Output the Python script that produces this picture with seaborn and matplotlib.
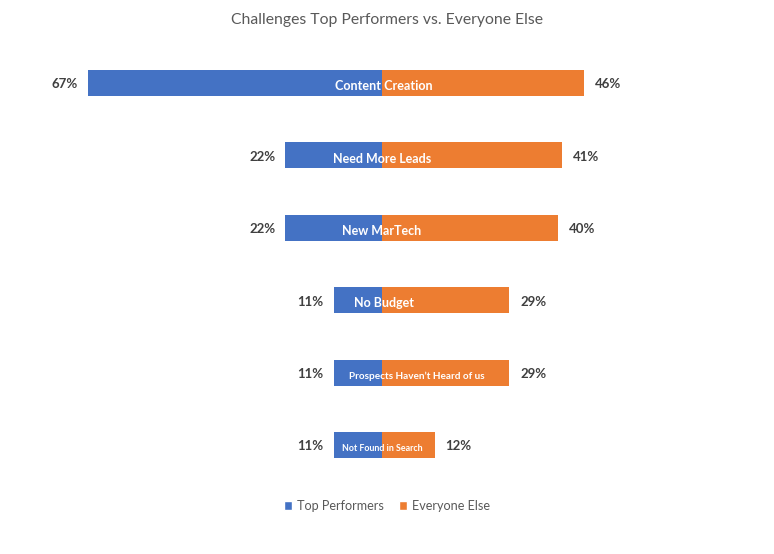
import matplotlib
matplotlib.use("Agg")
import matplotlib.pyplot as plt
import seaborn as sns
import pandas as pd
from matplotlib.patches import Patch

categories = ["Content Creation", "Need More Leads", "New MarTech", "No Budget",
              "Prospects Haven\u2019t Heard of us", "Not Found in Search"]
top_performers = [67, 22, 22, 11, 11, 11]
everyone_else = [46, 41, 40, 29, 29, 12]
series = ["Top Performers", "Everyone Else"]
label_sizes = [9.1, 9.0, 9.0, 9.0, 7.2, 6.4]
label_shift = [0.4, 0.0, 0.0, 0.4, 8.0, 0.0]

sns.set_theme(style="white")
plt.rcParams["font.family"] = ["Lato", "DejaVu Sans"]

blue = "#4472C4"
orange = "#ED7D31"
txt = "#404040"

rows = []
for c, a, b in zip(categories, top_performers, everyone_else):
    rows.append({"cat": c, "series": series[0], "val": -a})
    rows.append({"cat": c, "series": series[1], "val": b})
df = pd.DataFrame(rows)

fig = plt.figure(figsize=(7.74, 5.54), dpi=100)
ax = fig.add_axes([0, 0, 1, 1])
sns.barplot(data=df, y="cat", x="val", hue="series", order=categories,
            hue_order=series, palette=[blue, orange], dodge=False,
            width=0.36, orient="h", ax=ax, legend=False, saturation=1,
            linewidth=0, edgecolor="none")

ax.set_xlim(-382 / 4.39, (774 - 382) / 4.39)
ax.set_ylim(5 + (554 - 445) / 72.4, -83 / 72.4)
ax.axis("off")

for i, (c, a, b) in enumerate(zip(categories, top_performers, everyone_else)):
    ax.text(-a - 2.3, i + 0.02, f"{a}%", ha="right", va="center",
            fontsize=9.5, fontweight="bold", color=txt)
    ax.text(b + 2.5, i + 0.02, f"{b}%", ha="left", va="center",
            fontsize=9.5, fontweight="bold", color=txt)
    ax.text(label_shift[i], i + 0.045, c, ha="center", va="center",
            fontsize=label_sizes[i], fontweight="bold", color="white")

fig.text(0.5, 1 - 20 / 554, "Challenges Top Performers vs. Everyone Else",
         ha="center", va="center", fontsize=11.3, color="#595959")

handles = [Patch(facecolor=blue), Patch(facecolor=orange)]
fig.legend(handles, series, loc="center", bbox_to_anchor=(0.5, 1 - 506 / 554),
           ncol=2, frameon=False, handlelength=0.65, handleheight=0.65,
           handletextpad=0.4, columnspacing=1.2, labelcolor="#595959",
           prop={"size": 9.1})

fig.savefig("out.png", dpi=100, facecolor="white")
